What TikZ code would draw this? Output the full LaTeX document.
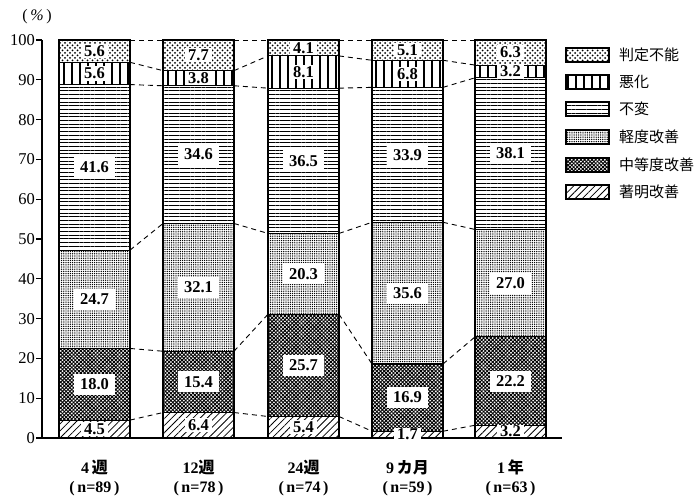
\documentclass[tikz,border=0pt]{standalone}
\usepackage{fontspec}
\setmainfont{Liberation Serif}
\newfontfamily\jp{Noto Sans CJK JP}
\usetikzlibrary{patterns.meta}
\tikzset{
  segbase/.style={draw, line width=1.1pt},
  sA/.style={segbase, pattern={Lines[angle=45,distance=5pt,line width=0.8pt]}},
  sB/.style={segbase, preaction={pattern={Lines[angle=45,distance=2.6pt,line width=0.95pt]}}, pattern={Lines[angle=-45,distance=2.6pt,line width=0.95pt]}},
  sC/.style={segbase, pattern={Dots[distance=2.2pt,radius=0.72pt]}},
  sD/.style={segbase, pattern={Lines[angle=0,distance=3.7pt,line width=1pt]}},
  sE/.style={segbase, pattern={Lines[angle=90,distance=8pt,line width=1.2pt]}},
  sF/.style={segbase, preaction={pattern={Dots[distance=5pt,radius=1pt]}}, pattern={Dots[distance=5pt,radius=1pt,xshift=2.5pt,yshift=2.5pt]}},
  lab/.style={fill=white, inner ysep=1.5pt, font=\fontsize{16.5}{18}\selectfont\bfseries},
  conn/.style={line width=0.9pt, dash pattern=on 5pt off 4pt},
  tick/.style={font=\fontsize{16.5}{18}\selectfont, anchor=east, inner sep=1pt},
  cat/.style={font=\fontsize{16}{18.5}\selectfont\bfseries, align=center},
  legbox/.style={minimum width=43pt, minimum height=14pt, inner sep=0pt},
  legtxt/.style={font=\jp\fontsize{15}{17}\selectfont, anchor=west, inner sep=0pt},
}
\newcommand\mybar[8]{%
  \pgfmathsetmacro\yA{60}%
  \pgfmathsetmacro\yB{60+3.98*(#3)}%
  \pgfmathsetmacro\yC{60+3.98*(#3+#4)}%
  \pgfmathsetmacro\yD{60+3.98*(#3+#4+#5)}%
  \pgfmathsetmacro\yE{60+3.98*(#3+#4+#5+#6)}%
  \pgfmathsetmacro\yF{60+3.98*(#3+#4+#5+#6+#7)}%
  \pgfmathsetmacro\yG{458}%
  \pgfmathsetmacro\xR{#2+71}%
  \pgfmathsetmacro\xM{#2+35.5}%
  \path[sA] (#2,\yA) rectangle (\xR,\yB);
  \path[sB] (#2,\yB) rectangle (\xR,\yC);
  \path[sC] (#2,\yC) rectangle (\xR,\yD);
  \path[sD] (#2,\yD) rectangle (\xR,\yE);
  \path[sE] (#2,\yE) rectangle (\xR,\yF);
  \path[sF] (#2,\yF) rectangle (\xR,\yG);
  \foreach \k/\yy in {1/\yB,2/\yC,3/\yD,4/\yE,5/\yF,6/\yG}{
    \coordinate (#1L\k) at (#2,\yy);
    \coordinate (#1R\k) at (\xR,\yy);
  }
  \pgfmathsetmacro\sa{(#3)>=10 ? 6 : 3}%
  \node[lab, inner xsep=\sa pt] (#1v1) at (\xM,{(\yA+\yB)/2}) {#3};
  \pgfmathsetmacro\sa{(#4)>=10 ? 6 : 3}%
  \node[lab, inner xsep=\sa pt, inner ysep=5pt] (#1v2) at (\xM,{(\yB+\yC)/2}) {#4};
  \pgfmathsetmacro\sa{(#5)>=10 ? 6 : 3}%
  \node[lab, inner xsep=\sa pt, inner ysep=5pt] (#1v3) at (\xM,{(\yC+\yD)/2}) {#5};
  \pgfmathsetmacro\sa{(#6)>=10 ? 6 : 3}%
  \node[lab, inner xsep=\sa pt, inner ysep=5pt] (#1v4) at (\xM,{(\yD+\yE)/2}) {#6};
  \pgfmathsetmacro\sa{(#7)>=10 ? 6 : 3}%
  \node[lab, inner xsep=\sa pt] (#1v5) at (\xM,{(\yE+\yF)/2}) {#7};
  \pgfmathsetmacro\sa{(#8)>=10 ? 6 : 3}%
  \node[lab, inner xsep=\sa pt] (#1v6) at (\xM,{(\yF+\yG)/2}) {#8};
}
\begin{document}
\begin{tikzpicture}[x=1pt,y=1pt]
\useasboundingbox (0,0) rectangle (700,498);
% bars
\mybar{ba}{59}{4.5}{18.0}{24.7}{41.6}{5.6}{5.6}
\mybar{bb}{163}{6.4}{15.4}{32.1}{34.6}{3.8}{7.7}
\mybar{bc}{268}{5.4}{25.7}{20.3}{36.5}{8.1}{4.1}
\mybar{bd}{372}{1.7}{16.9}{35.6}{33.9}{6.8}{5.1}
\mybar{be}{475}{3.2}{22.2}{27.0}{38.1}{3.2}{6.3}
% dashed connectors
\foreach \k in {1,...,6}{
  \draw[conn] (baR\k) -- (bbL\k);
  \draw[conn] (bbR\k) -- (bcL\k);
  \draw[conn] (bcR\k) -- (bdL\k);
  \draw[conn] (bdR\k) -- (beL\k);
}
% axes
\coordinate (ytop) at (42,458);
\coordinate (orig) at (42,60);
\coordinate (xend) at (562,60);
\draw[line width=1.3pt] (ytop) -- (orig) -- (xend);
\node[lab, inner xsep=3pt, inner ysep=1.5pt] (bdv1b) at (bdv1) {1.7};
\foreach \v in {0,10,...,100}{
  \coordinate (t\v) at (42,{60+3.98*\v});
  \coordinate (u\v) at (36,{60+3.98*\v});
  \draw[line width=1.1pt] (t\v) -- (u\v);
  \node[tick] (tl\v) at (u\v) {\v};
}
\node[font=\fontsize{16}{18}\selectfont, inner sep=0pt] (unit) at (37,481) {(\,\textit{\%}\,)};
% category labels
\node[cat] (c1) at (94.5,20) {4\,{\jp 週}\\(\,n=89\,)};
\node[cat] (c2) at (198.5,20) {12{\jp 週}\\(\,n=78\,)};
\node[cat] (c3) at (303.5,20) {24{\jp 週}\\(\,n=74\,)};
\node[cat] (c4) at (407.5,20) {9\,{\jp カ月}\\(\,n=59\,)};
\node[cat] (c5) at (510.5,20) {1\,{\jp 年}\\(\,n=63\,)};
% legend
\node[legbox, sF] (g6) at (587.5,443) {};
\node[legbox, sE] (g5) at (587.5,416) {};
\node[legbox, sD] (g4) at (587.5,389) {};
\node[legbox, sC] (g3) at (587.5,361) {};
\node[legbox, sB] (g2) at (587.5,333) {};
\node[legbox, sA] (g1) at (587.5,306) {};
\node[legtxt] (h6) at (619,443) {判定不能};
\node[legtxt] (h5) at (619,416) {悪化};
\node[legtxt] (h4) at (619,389) {不変};
\node[legtxt] (h3) at (619,361) {軽度改善};
\node[legtxt] (h2) at (619,333) {中等度改善};
\node[legtxt] (h1) at (619,306) {著明改善};
\end{tikzpicture}
\end{document}
